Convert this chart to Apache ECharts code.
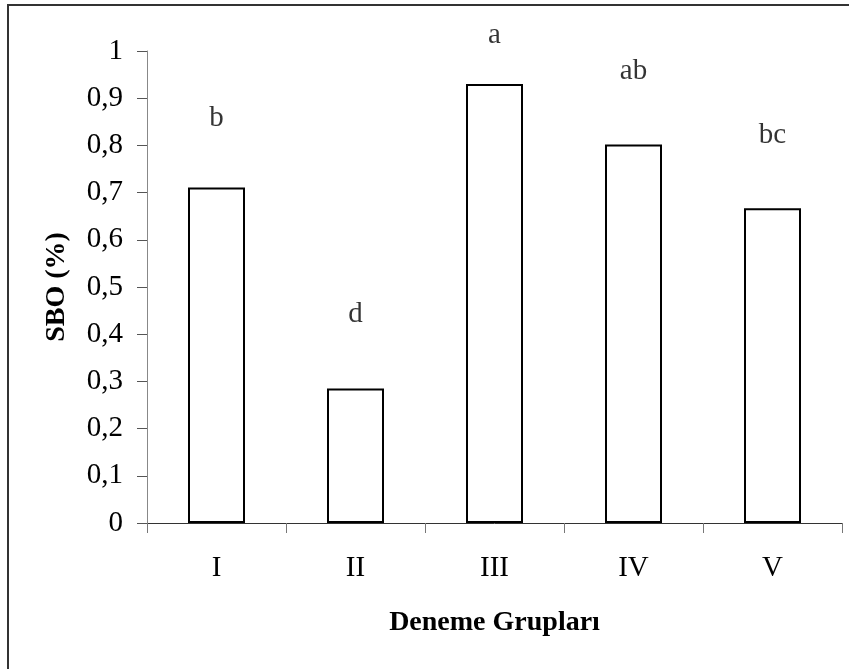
<!DOCTYPE html>
<html>
<head>
<meta charset="utf-8">
<script src="https://cdn.jsdelivr.net/npm/echarts@6/dist/echarts.min.js"></script>
<style>
html,body{margin:0;padding:0;background:#fff;}
#chart{width:849px;height:669px;}
</style>
</head>
<body>
<div id="chart"></div>
<script>
// ---- data ----
const categories = ['I', 'II', 'III', 'IV', 'V'];
const sboValues = [0.711, 0.285, 0.93, 0.802, 0.667];
const groupLetters = ['b', 'd', 'a', 'ab', 'bc'];
const letterHeights = [0.858, 0.441, 1.034, 0.957, 0.821];
const yTickLabels = ['0', '0,1', '0,2', '0,3', '0,4', '0,5', '0,6', '0,7', '0,8', '0,9', '1'];

const FONT = '"Liberation Serif", "Times New Roman", serif';
const chart = echarts.init(document.getElementById('chart'), null, {renderer: 'canvas'});

const option = {
  backgroundColor: '#fff',
  animation: false,
  graphic: [{
    type: 'rect',
    shape: {x: 8, y: 5, width: 900, height: 700},
    style: {fill: 'none', stroke: '#333', lineWidth: 2},
    silent: true
  }],
  grid: {left: 147, right: 7, top: 51, bottom: 146, containLabel: false},
  xAxis: {
    type: 'category',
    data: categories,
    name: 'Deneme Grupları',
    nameLocation: 'middle',
    nameGap: 86,
    nameTextStyle: {fontFamily: FONT, fontSize: 28, fontWeight: 'bold', color: '#000'},
    axisLine: {lineStyle: {color: '#333', width: 1}},
    axisTick: {show: true, length: 10, alignWithLabel: false, lineStyle: {color: '#777'}},
    axisLabel: {fontFamily: FONT, fontSize: 29, color: '#000', margin: 31},
    splitLine: {show: false}
  },
  yAxis: {
    type: 'value',
    min: 0,
    max: 1,
    interval: 0.1,
    name: 'SBO (%)',
    nameLocation: 'middle',
    nameGap: 76,
    nameRotate: 90,
    nameTextStyle: {fontFamily: FONT, fontSize: 28, fontWeight: 'bold', color: '#000'},
    axisLine: {show: true, lineStyle: {color: '#888', width: 1}},
    axisTick: {show: true, length: 10, lineStyle: {color: '#555'}},
    axisLabel: {
      fontFamily: FONT, fontSize: 29, color: '#000', margin: 24,
      formatter: function (v) { return yTickLabels[Math.round(v * 10)]; }
    },
    splitLine: {show: false}
  },
  series: [
    {
      type: 'bar',
      data: sboValues,
      barWidth: 57,
      itemStyle: {color: '#fff', borderColor: '#000', borderWidth: 2}
    },
    {
      type: 'scatter',
      clip: false,
      symbolSize: 0,
      data: categories.map(function (c, i) { return [c, letterHeights[i]]; }),
      label: {
        show: true,
        position: 'inside',
        fontFamily: FONT,
        fontSize: 29,
        color: '#000',
        formatter: function (p) { return groupLetters[p.dataIndex]; }
      }
    }
  ]
};
chart.setOption(option);
</script>
</body>
</html>
